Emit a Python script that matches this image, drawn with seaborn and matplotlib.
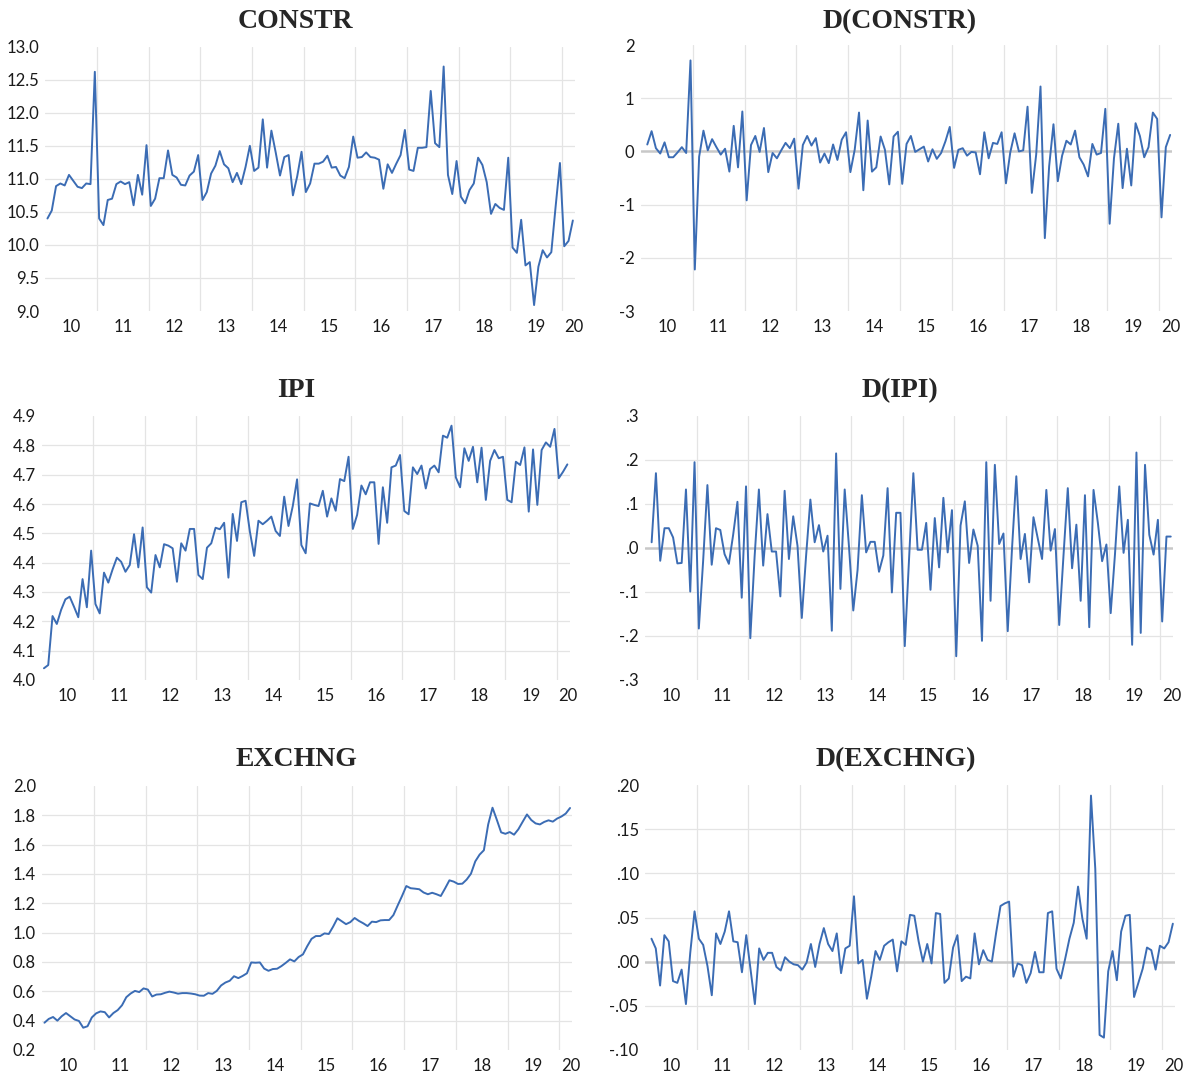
import numpy as np
import pandas as pd
import matplotlib
matplotlib.use("Agg")
import matplotlib.pyplot as plt
import seaborn as sns

W, H = 1191, 1076

# monthly observations, Jan 2010 - Mar 2020 (index 0..122)
year_labels = ["10", "11", "12", "13", "14", "15", "16", "17", "18", "19", "20"]

constr = [10.40, 10.52, 10.89, 10.93, 10.90, 11.06, 10.97, 10.88, 10.86, 10.93, 10.92, 12.62,
          10.40, 10.30, 10.68, 10.70, 10.92, 10.96, 10.92, 10.95, 10.60, 11.06, 10.76, 11.51,
          10.59, 10.70, 11.01, 11.01, 11.43, 11.06, 11.02, 10.91, 10.90, 11.05, 11.11, 11.36,
          10.68, 10.80, 11.08, 11.20, 11.42, 11.22, 11.16, 10.95, 11.09, 10.92, 11.18, 11.50,
          11.12, 11.17, 11.90, 11.17, 11.73, 11.40, 11.05, 11.33, 11.36, 10.75, 11.04, 11.41,
          10.80, 10.93, 11.23, 11.23, 11.26, 11.35, 11.17, 11.18, 11.05, 11.01, 11.18, 11.64,
          11.32, 11.33, 11.40, 11.33, 11.32, 11.29, 10.85, 11.22, 11.09, 11.23, 11.36, 11.74,
          11.14, 11.12, 11.47, 11.47, 11.48, 12.33, 11.54, 11.48, 12.70, 11.06, 10.77, 11.27,
          10.73, 10.63, 10.83, 10.93, 11.32, 11.21, 10.95, 10.47, 10.62, 10.56, 10.53, 11.32,
          9.96, 9.88, 10.38, 9.69, 9.74, 9.09, 9.67, 9.92, 9.81, 9.89, 10.58, 11.24,
          9.98, 10.06, 10.37]

# first differences start in Feb 2010 (index 1..122)
d_constr = [0.13, 0.38, 0.06, -0.04, 0.17, -0.11, -0.11, -0.02, 0.08, -0.03, 1.71,
            -2.22, -0.10, 0.39, 0.02, 0.23, 0.08, -0.06, 0.05, -0.38, 0.48, -0.30, 0.75,
            -0.92, 0.12, 0.29, -0.01, 0.44, -0.39, -0.03, -0.13, 0.02, 0.16, 0.06, 0.24,
            -0.70, 0.12, 0.29, 0.11, 0.25, -0.21, -0.04, -0.22, 0.13, -0.16, 0.22, 0.36,
            -0.39, 0.03, 0.73, -0.73, 0.58, -0.38, -0.30, 0.28, 0.03, -0.62, 0.28, 0.37,
            -0.61, 0.14, 0.29, -0.01, 0.04, 0.09, -0.19, 0.04, -0.14, -0.03, 0.19, 0.46,
            -0.31, 0.03, 0.06, -0.08, -0.01, -0.02, -0.43, 0.36, -0.13, 0.16, 0.14, 0.36,
            -0.60, -0.02, 0.34, 0.00, 0.02, 0.84, -0.78, -0.06, 1.22, -1.63, -0.28, 0.51,
            -0.56, -0.08, 0.20, 0.13, 0.39, -0.11, -0.25, -0.47, 0.14, -0.06, -0.03, 0.80,
            -1.36, -0.13, 0.52, -0.69, 0.05, -0.64, 0.53, 0.29, -0.11, 0.08, 0.73, 0.61,
            -1.24, 0.08, 0.31]

ipi = [4.040, 4.051, 4.218, 4.191, 4.239, 4.275, 4.284, 4.250, 4.214, 4.344, 4.248, 4.441,
       4.259, 4.227, 4.366, 4.332, 4.377, 4.417, 4.403, 4.369, 4.392, 4.497, 4.384, 4.520,
       4.316, 4.298, 4.426, 4.384, 4.463, 4.458, 4.449, 4.335, 4.466, 4.441, 4.515, 4.515,
       4.358, 4.344, 4.451, 4.466, 4.519, 4.514, 4.536, 4.349, 4.566, 4.474, 4.606, 4.611,
       4.506, 4.423, 4.543, 4.531, 4.543, 4.557, 4.508, 4.491, 4.625, 4.525, 4.593, 4.684,
       4.460, 4.432, 4.602, 4.597, 4.593, 4.645, 4.557, 4.619, 4.577, 4.685, 4.678, 4.761,
       4.515, 4.563, 4.663, 4.633, 4.674, 4.674, 4.464, 4.657, 4.536, 4.725, 4.731, 4.767,
       4.576, 4.565, 4.725, 4.702, 4.731, 4.653, 4.719, 4.731, 4.708, 4.833, 4.826, 4.867,
       4.691, 4.657, 4.790, 4.747, 4.795, 4.674, 4.792, 4.614, 4.747, 4.784, 4.756, 4.761,
       4.614, 4.606, 4.744, 4.733, 4.793, 4.574, 4.786, 4.597, 4.784, 4.810, 4.795, 4.856,
       4.688, 4.710, 4.735]

d_ipi = [0.013, 0.170, -0.029, 0.045, 0.045, 0.024, -0.035, -0.034, 0.133, -0.099, 0.195,
         -0.183, -0.030, 0.143, -0.038, 0.045, 0.041, -0.014, -0.036, 0.030, 0.105, -0.113, 0.140,
         -0.205, -0.020, 0.133, -0.040, 0.077, -0.008, -0.008, -0.110, 0.130, -0.025, 0.072, 0.005,
         -0.159, -0.018, 0.110, 0.013, 0.052, -0.008, 0.028, -0.188, 0.215, -0.093, 0.133, 0.003,
         -0.142, -0.050, 0.120, -0.010, 0.014, 0.014, -0.054, -0.017, 0.136, -0.101, 0.080, 0.080,
         -0.223, -0.025, 0.170, -0.004, -0.004, 0.057, -0.095, 0.068, -0.044, 0.114, -0.010, 0.086,
         -0.246, 0.051, 0.106, -0.034, 0.042, 0.005, -0.211, 0.195, -0.120, 0.189, 0.009, 0.033,
         -0.189, -0.001, 0.163, -0.025, 0.032, -0.078, 0.070, 0.022, -0.025, 0.132, -0.006, 0.043,
         -0.175, -0.017, 0.136, -0.046, 0.053, -0.120, 0.120, -0.180, 0.132, 0.058, -0.030, 0.008,
         -0.148, -0.014, 0.140, -0.011, 0.064, -0.220, 0.217, -0.193, 0.189, 0.030, -0.015, 0.064,
         -0.167, 0.026, 0.026]

exchng = [0.386, 0.412, 0.425, 0.400, 0.430, 0.452, 0.430, 0.408, 0.398, 0.352, 0.362, 0.422,
          0.450, 0.463, 0.458, 0.422, 0.452, 0.472, 0.505, 0.560, 0.585, 0.603, 0.595, 0.620,
          0.612, 0.565, 0.578, 0.580, 0.590, 0.598, 0.592, 0.584, 0.588, 0.588, 0.585, 0.580,
          0.571, 0.570, 0.588, 0.583, 0.603, 0.640, 0.660, 0.672, 0.703, 0.690, 0.705, 0.723,
          0.797, 0.795, 0.797, 0.755, 0.740, 0.752, 0.754, 0.772, 0.794, 0.818, 0.804, 0.834,
          0.852, 0.908, 0.958, 0.977, 0.977, 0.995, 0.991, 1.041, 1.098, 1.078, 1.058, 1.072,
          1.100, 1.080, 1.064, 1.045, 1.075, 1.072, 1.084, 1.086, 1.086, 1.120, 1.186, 1.250,
          1.318, 1.303, 1.300, 1.296, 1.274, 1.262, 1.272, 1.262, 1.250, 1.302, 1.357, 1.348,
          1.332, 1.334, 1.362, 1.402, 1.486, 1.532, 1.562, 1.738, 1.852, 1.770, 1.684, 1.674,
          1.686, 1.668, 1.705, 1.756, 1.806, 1.768, 1.745, 1.738, 1.755, 1.766, 1.757, 1.778,
          1.792, 1.812, 1.850]

d_exchng = [0.026, 0.015, -0.027, 0.030, 0.023, -0.022, -0.024, -0.009, -0.048, 0.010, 0.057,
            0.026, 0.019, -0.005, -0.038, 0.032, 0.020, 0.034, 0.057, 0.023, 0.022, -0.012, 0.030,
            -0.009, -0.048, 0.015, 0.002, 0.010, 0.010, -0.006, -0.010, 0.005, 0.000, -0.003, -0.004,
            -0.009, -0.001, 0.020, -0.006, 0.020, 0.038, 0.020, 0.012, 0.032, -0.013, 0.015, 0.018,
            0.074, -0.002, 0.002, -0.042, -0.017, 0.012, 0.002, 0.018, 0.022, 0.025, -0.011, 0.023,
            0.019, 0.053, 0.052, 0.023, 0.000, 0.020, -0.002, 0.055, 0.054, -0.024, -0.019, 0.016,
            0.030, -0.022, -0.017, -0.019, 0.032, -0.003, 0.013, 0.002, 0.000, 0.033, 0.063, 0.066,
            0.068, -0.017, -0.002, -0.004, -0.024, -0.013, 0.011, -0.012, -0.012, 0.055, 0.057, -0.008,
            -0.019, 0.003, 0.026, 0.044, 0.085, 0.049, 0.026, 0.188, 0.105, -0.083, -0.086, -0.011,
            0.012, -0.021, 0.034, 0.052, 0.053, -0.040, -0.024, -0.008, 0.016, 0.013, -0.009, 0.018,
            0.015, 0.022, 0.043]

# y ticks and their labels
constr_ticks = [9.0, 9.5, 10.0, 10.5, 11.0, 11.5, 12.0, 12.5, 13.0]
constr_labels = ["9.0", "9.5", "10.0", "10.5", "11.0", "11.5", "12.0", "12.5", "13.0"]
dconstr_ticks = [-3, -2, -1, 0, 1, 2]
dconstr_labels = ["-3", "-2", "-1", "0", "1", "2"]
ipi_ticks = [4.0, 4.1, 4.2, 4.3, 4.4, 4.5, 4.6, 4.7, 4.8, 4.9]
ipi_labels = ["4.0", "4.1", "4.2", "4.3", "4.4", "4.5", "4.6", "4.7", "4.8", "4.9"]
dipi_ticks = [-0.3, -0.2, -0.1, 0.0, 0.1, 0.2, 0.3]
dipi_labels = ["-.3", "-.2", "-.1", ".0", ".1", ".2", ".3"]
exch_ticks = [0.2, 0.4, 0.6, 0.8, 1.0, 1.2, 1.4, 1.6, 1.8, 2.0]
exch_labels = ["0.2", "0.4", "0.6", "0.8", "1.0", "1.2", "1.4", "1.6", "1.8", "2.0"]
dexch_ticks = [-0.10, -0.05, 0.00, 0.05, 0.10, 0.15, 0.20]
dexch_labels = ["-.10", "-.05", ".00", ".05", ".10", ".15", ".20"]

BLUE = "#3b6cb4"
GRID = "#e4e4e4"
ZERO = "#c8c8c8"

sns.set_style("white")
plt.rcParams["font.family"] = ["Lato", "DejaVu Sans"]

fig = plt.figure(figsize=(W / 100, H / 100), dpi=100)

# (title, values, first index, pixel box l r t b, title x, title baseline y, ticks, labels, zero line)
panels = [
    ("CONSTR", constr, 0, (45.3, 575.0, 46.7, 311.0), 295, 28, constr_ticks, constr_labels, False),
    ("D(CONSTR)", d_constr, 1, (640.8, 1172.3, 45.0, 311.0), 900, 28, dconstr_ticks, dconstr_labels, True),
    ("IPI", ipi, 0, (41.8, 569.5, 416.0, 680.0), 296, 397, ipi_ticks, ipi_labels, False),
    ("D(IPI)", d_ipi, 1, (645.2, 1172.9, 416.0, 680.0), 900, 397, dipi_ticks, dipi_labels, True),
    ("EXCHNG", exchng, 0, (42.3, 572.2, 786.0, 1050.0), 297, 766, exch_ticks, exch_labels, False),
    ("D(EXCHNG)", d_exchng, 1, (645.0, 1175.0, 785.0, 1050.0), 896, 766, dexch_ticks, dexch_labels, True),
]

year_pos = [12 * k + 5.5 for k in range(10)] + [122.2]
year_edges = [12 * k - 0.5 for k in range(1, 11)]

for title, vals, start, box, tx, ty, ticks, labels, zero in panels:
    l, r, t, b = box
    ax = fig.add_axes([l / W, 1 - b / H, (r - l) / W, (b - t) / H])
    df = pd.DataFrame({"t": np.arange(start, start + len(vals)), "v": vals})

    for yv in ticks[1:-1]:
        if zero and abs(yv) < 1e-9:
            ax.axhline(yv, color=ZERO, lw=1.8, zorder=1)
        else:
            ax.axhline(yv, color=GRID, lw=0.9, zorder=0)
    for xv in year_edges:
        ax.axvline(xv, color=GRID, lw=0.9, zorder=0)

    sns.lineplot(data=df, x="t", y="v", ax=ax, color=BLUE, linewidth=1.4, zorder=3)

    ax.set_xlim(-0.5, 122.5)
    ax.set_ylim(ticks[0], ticks[-1])
    ax.set_yticks(ticks)
    ax.set_yticklabels(labels)
    ax.set_xticks(year_pos)
    ax.set_xticklabels(year_labels)
    ax.tick_params(axis="both", length=0, labelsize=12, labelcolor="#1a1a1a")
    ax.tick_params(axis="x", pad=6)
    ax.tick_params(axis="y", pad=4.5)
    ax.set_xlabel("")
    ax.set_ylabel("")
    for s in ax.spines.values():
        s.set_visible(False)

    fig.text(tx / W, 1 - ty / H, title, ha="center", va="baseline",
             family="Liberation Serif", fontweight="bold", fontsize=20)

fig.savefig("out.png", dpi=100)
